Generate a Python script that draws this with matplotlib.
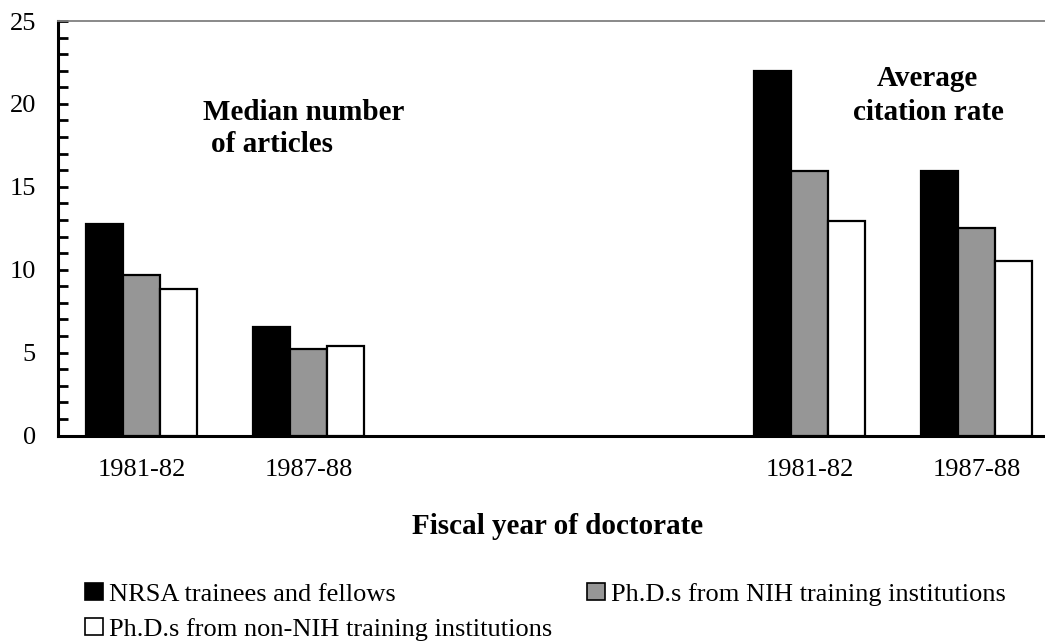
import matplotlib
matplotlib.use("Agg")
import matplotlib.pyplot as plt
import numpy as np
from matplotlib.patches import Patch
from matplotlib.ticker import MultipleLocator

plt.rcParams["font.family"] = ["Liberation Serif", "DejaVu Serif"]

# Fiscal year groups: first two are median articles, last two average citation rate
years = ["1981-82", "1987-88", "1981-82", "1987-88"]
nrsa = [12.75, 6.55, 22.0, 15.95]
nih_inst = [9.7, 5.2, 15.95, 12.5]
non_nih_inst = [8.85, 5.4, 12.95, 10.5]

series_names = ["NRSA trainees and fellows",
                "Ph.D.s from NIH training institutions",
                "Ph.D.s from non-NIH training institutions"]
colors = ["#000000", "#969696", "#ffffff"]

W, H = 1045, 644

# two empty slots separate the two measures
slots = np.array([0, 1, 4, 5])
w = 0.222

fig = plt.figure(figsize=(W / 100, H / 100), dpi=100)
ax = fig.add_axes([58 / W, (H - 435.5) / H, 1002 / W, 414.5 / H])

for k, vals in enumerate([nrsa, nih_inst, non_nih_inst]):
    ax.bar(slots + (k - 1) * w, vals, width=w, color=colors[k],
           edgecolor="black", linewidth=1.6, zorder=3)

ax.set_xlim(-0.5, 5.5)
ax.set_ylim(0, 25)
ax.set_xticks(slots)
ax.set_xticklabels(years, fontsize=19)
ax.set_yticks(range(0, 26, 5))
ax.yaxis.set_minor_locator(MultipleLocator(1))
ax.tick_params(axis="y", which="both", direction="in", length=7, width=2,
               labelsize=19, pad=16)
ax.tick_params(axis="x", length=0, pad=17)

for side in ["left", "bottom"]:
    ax.spines[side].set_linewidth(2.2)
    ax.spines[side].set_color("black")
ax.spines["top"].set_color("#808080")
ax.spines["top"].set_linewidth(1.3)
ax.spines["right"].set_visible(False)


def fig_text(x, y, s, **kw):
    # place text by pixel position measured from the top-left corner
    fig.text(x / W, 1 - y / H, s, va="baseline", **kw)


bold = dict(fontsize=21, fontweight="bold")
fig_text(203, 119.5, "Median number", ha="left", **bold)
fig_text(211, 152.5, "of articles", ha="left", **bold)
fig_text(927, 86.5, "Average", ha="center", **bold)
fig_text(928, 120, "citation rate", ha="center", **bold)
fig_text(558, 534, "Fiscal year of doctorate", ha="center", **bold)

# row-wise legend order: NRSA, NIH on first row, non-NIH below
handles = [Patch(facecolor=c, edgecolor="black", linewidth=1.2) for c in colors]
order = [0, 2, 1]
fig.legend([handles[i] for i in order], [series_names[i] for i in order],
           loc="upper left", bbox_to_anchor=(85 / W, 1 - 583 / H), ncol=2,
           frameon=False, fontsize=19, handlelength=0.68, handleheight=0.62,
           handletextpad=0.23, columnspacing=1.3, labelspacing=0.45,
           borderpad=0, borderaxespad=0)

fig.savefig("out.png", dpi=100)
